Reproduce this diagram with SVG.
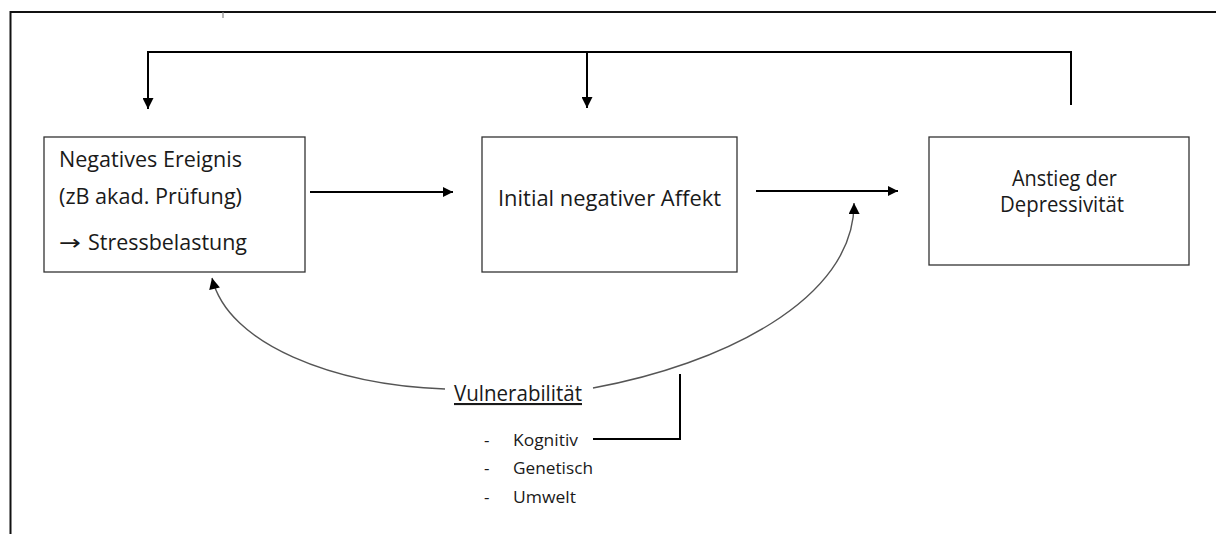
<svg xmlns="http://www.w3.org/2000/svg" width="1216" height="534" viewBox="0 0 1216 534">
<style>
.box{fill:#fff;stroke:#333;stroke-width:1.3}
.t{font-family:"Open Sans","Liberation Sans",sans-serif;font-size:21px;fill:#1a1a1a}
.s{font-family:"Open Sans","Liberation Sans",sans-serif;font-size:17px;fill:#1a1a1a}
.ar{font-family:"DejaVu Sans",sans-serif;font-size:21px;fill:#1a1a1a}
.c{fill:none;stroke:#000;stroke-width:2}
.cv{fill:none;stroke:#555;stroke-width:1.4}
</style>
<defs>
<marker id="ah" viewBox="0 0 10 10" refX="10" refY="5" markerWidth="10" markerHeight="10" markerUnits="userSpaceOnUse" orient="auto"><path d="M0,0 L10,5 L0,10 z" fill="#000"/></marker>
<marker id="ah2" viewBox="0 0 10 10" refX="10" refY="5" markerWidth="12" markerHeight="11" markerUnits="userSpaceOnUse" orient="auto"><path d="M0,0 L10,5 L0,10 z" fill="#000"/></marker>
</defs>
<rect width="1216" height="534" fill="#fff"/>
<g id="frame">
<path d="M10.5,534 V12 H1216" fill="none" stroke="#111" stroke-width="2"/>
<line x1="223" y1="12" x2="223" y2="18" stroke="#888" stroke-width="1.2"/>
</g>
<g id="connectors">
<path class="c" d="M1071,105 V52 H148 V109" marker-end="url(#ah2)"/>
<path class="c" d="M587,52 V108" marker-end="url(#ah2)"/>
<line class="c" x1="310" y1="192" x2="453" y2="192" marker-end="url(#ah)"/>
<line class="c" x1="756" y1="191" x2="898" y2="191" marker-end="url(#ah)"/>
<path class="cv" d="M445,389 C335,385 228,345 212,278" marker-end="url(#ah2)"/>
<path class="cv" d="M593,388 C720,365 855,300 854,203" marker-end="url(#ah2)"/>
<path class="c" d="M593,439 H680 V374"/>
</g>
<g id="n1">
<rect class="box" x="44" y="137" width="261" height="135"/>
<text class="t" x="59" y="167" textLength="183" lengthAdjust="spacingAndGlyphs">Negatives Ereignis</text>
<text class="t" x="59" y="204" textLength="183" lengthAdjust="spacingAndGlyphs">(zB akad. Prüfung)</text>
<text class="ar" x="59" y="250" textLength="22" lengthAdjust="spacingAndGlyphs">→</text>
<text class="t" x="88" y="250" textLength="159" lengthAdjust="spacingAndGlyphs">Stressbelastung</text>
</g>
<g id="n2">
<rect class="box" x="482" y="137" width="255" height="135"/>
<text class="t" x="498" y="206" textLength="223" lengthAdjust="spacingAndGlyphs">Initial negativer Affekt</text>
</g>
<g id="n3">
<rect class="box" x="929" y="137" width="260" height="128"/>
<text class="t" x="1012" y="186" textLength="105" lengthAdjust="spacingAndGlyphs">Anstieg der</text>
<text class="t" x="1000" y="212" textLength="124" lengthAdjust="spacingAndGlyphs">Depressivität</text>
</g>
<g id="vuln">
<text class="t" x="454" y="401" textLength="128" lengthAdjust="spacingAndGlyphs" text-decoration="underline">Vulnerabilität</text>
<text class="s" x="484" y="446">-</text>
<text class="s" x="513" y="446" textLength="65" lengthAdjust="spacingAndGlyphs">Kognitiv</text>
<text class="s" x="484" y="474">-</text>
<text class="s" x="513" y="474" textLength="80" lengthAdjust="spacingAndGlyphs">Genetisch</text>
<text class="s" x="484" y="503">-</text>
<text class="s" x="513" y="503" textLength="63" lengthAdjust="spacingAndGlyphs">Umwelt</text>
</g>
</svg>
